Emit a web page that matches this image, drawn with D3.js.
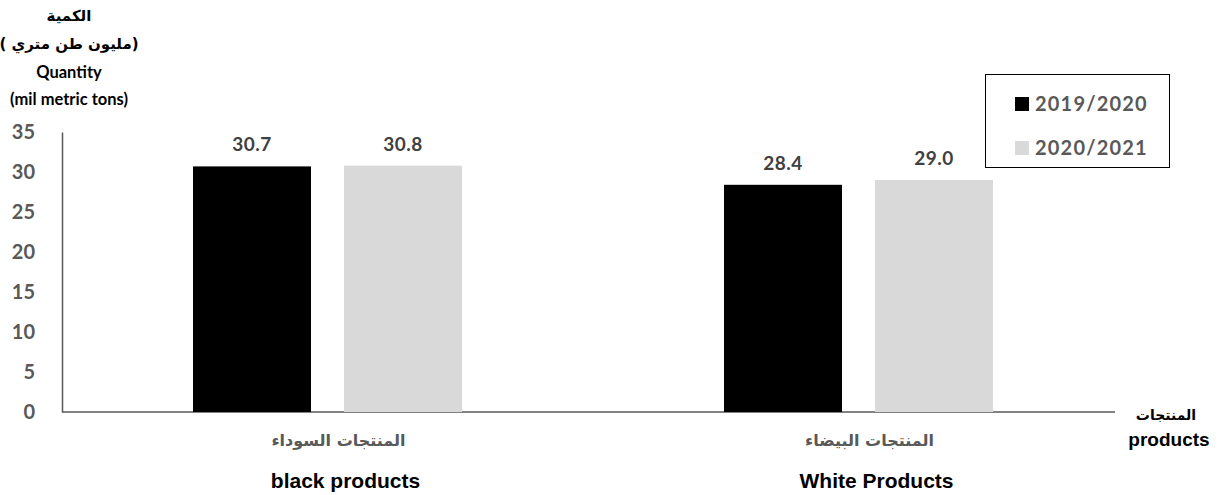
<!DOCTYPE html>
<html><head><meta charset="utf-8">
<script src="https://cdn.jsdelivr.net/npm/d3@7"></script>
<style>body{margin:0;background:#fff}</style>
</head><body>
<svg id="c" width="1223" height="495"></svg>
<script>
const categoriesAr = ["المنتجات السوداء", "المنتجات البيضاء"];
const categoriesEn = ["black products", "White Products"];
const seriesNames = ["2019/2020", "2020/2021"];
const values2019 = [30.7, 28.4];
const values2020 = [30.8, 29.0];
const yTicks = [0, 5, 10, 15, 20, 25, 30, 35];
const colors = ["#000000", "#d9d9d9"];

const svg = d3.select("#c");
const y = d3.scaleLinear().domain([0, 35]).range([412, 132]);
const x0 = d3.scaleBand().domain(categoriesEn).range([62, 1124]);
const x1 = d3.scaleBand().domain(seriesNames).range([131, 400]).paddingInner(0.2185);
const numFont = "Lato, 'Open Sans', sans-serif";

// y axis
const yAxis = d3.axisLeft(y).tickValues(yTicks).tickSize(0).tickPadding(27);
const gy = svg.append("g").attr("transform", "translate(62,0)").call(yAxis);
gy.select(".domain").attr("stroke", "#595959").attr("stroke-width", 1.5);
gy.selectAll("text").attr("fill", "#595959").attr("font-family", numFont)
  .attr("font-weight", "bold").attr("font-size", 20);

// x axis line
const xAxis = d3.axisBottom(x0).tickSize(0).tickFormat(() => "");
const gx = svg.append("g").attr("transform", "translate(0,412)").call(xAxis);
gx.select(".domain").attr("d", "M62,0H1115").attr("stroke", "#595959").attr("stroke-width", 1.5);

const data = categoriesEn.map((c, i) => ({cat: c, vals: [values2019[i], values2020[i]]}));
const groups = svg.append("g").selectAll("g").data(data).join("g")
  .attr("transform", d => `translate(${x0(d.cat)},0)`);
groups.selectAll("rect").data(d => d.vals.map((v, j) => ({s: seriesNames[j], v, j})))
  .join("rect")
  .attr("x", d => x1(d.s)).attr("width", x1.bandwidth())
  .attr("y", d => y(d.v)).attr("height", d => y(0) - y(d.v))
  .attr("fill", d => colors[d.j]);
groups.selectAll("text.lbl").data(d => d.vals.map((v, j) => ({s: seriesNames[j], v})))
  .join("text").attr("class", "lbl")
  .attr("x", d => x1(d.s) + x1.bandwidth() / 2).attr("y", d => y(d.v) - 15)
  .attr("text-anchor", "middle").attr("fill", "#404040")
  .attr("font-family", numFont).attr("font-weight", "bold").attr("font-size", 19)
  .attr("letter-spacing", 0.5)
  .text(d => d.v.toFixed(1));

// category labels
svg.append("g").selectAll("text").data(categoriesAr).join("text")
  .attr("x", (d, i) => x0(categoriesEn[i]) + x0.bandwidth() / 2 + 11).attr("y", 446)
  .attr("text-anchor", "middle").attr("fill", "#595959").attr("direction", "rtl")
  .attr("font-family", "'DejaVu Sans', sans-serif").attr("font-weight", "bold").attr("font-size", 16)
  .text(d => d);
svg.append("g").selectAll("text").data(categoriesEn).join("text")
  .attr("x", d => x0(d) + x0.bandwidth() / 2 + 18).attr("y", 488)
  .attr("text-anchor", "middle").attr("fill", "#000")
  .attr("font-family", "'Liberation Sans', Arial, sans-serif").attr("font-weight", "bold").attr("font-size", 21)
  .text(d => d);

// y axis title
const yTitleAr = ["الكمية", "(مليون طن متري )"];
const yTitleEn = ["Quantity", "(mil metric tons)"];
svg.append("g").selectAll("text").data(yTitleAr).join("text")
  .attr("x", 69).attr("y", (d, i) => [21, 49][i]).attr("text-anchor", "middle")
  .attr("direction", "rtl")
  .attr("fill", "#000").attr("font-family", "'DejaVu Sans', sans-serif")
  .attr("font-weight", "bold").attr("font-size", 15)
  .text(d => d);
svg.append("g").selectAll("text").data(yTitleEn).join("text")
  .attr("x", 69).attr("y", (d, i) => [78, 105][i]).attr("text-anchor", "middle")
  .attr("fill", "#000").attr("font-family", numFont)
  .attr("font-weight", "bold").attr("font-size", 16.5)
  .text(d => d);

// x axis title
svg.append("text").attr("x", 1166).attr("y", 420).attr("text-anchor", "middle")
  .attr("direction", "rtl")
  .attr("font-family", "'DejaVu Sans', sans-serif").attr("font-weight", "bold").attr("font-size", 14)
  .text("المنتجات");
svg.append("text").attr("x", 1169).attr("y", 446).attr("text-anchor", "middle")
  .attr("font-family", "'Liberation Sans', Arial, sans-serif").attr("font-weight", "bold").attr("font-size", 19)
  .text("products");

// legend
const lg = svg.append("g");
lg.append("rect").attr("x", 985.5).attr("y", 74.5).attr("width", 184).attr("height", 93)
  .attr("fill", "#fff").attr("stroke", "#000").attr("stroke-width", 1);
const li = lg.selectAll("g").data(seriesNames).join("g")
  .attr("transform", (d, i) => `translate(1015,${97 + i * 44})`);
li.append("rect").attr("width", 14).attr("height", 14).attr("fill", (d, i) => colors[i]);
li.append("text").attr("x", 20).attr("y", 14).attr("fill", "#595959")
  .attr("font-family", numFont).attr("font-weight", "bold").attr("font-size", 20)
  .attr("letter-spacing", 1.2)
  .text(d => d);
</script>
</body></html>
